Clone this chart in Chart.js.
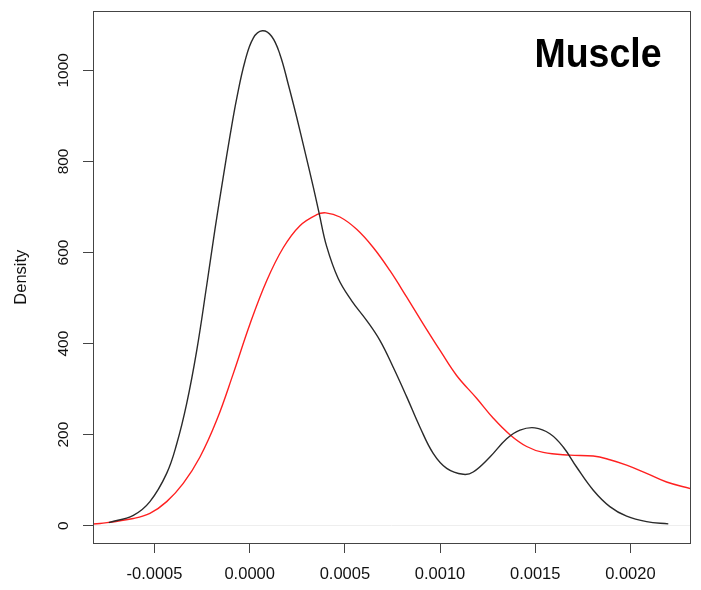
<!DOCTYPE html>
<html>
<head>
<meta charset="utf-8">
<script src="https://cdn.jsdelivr.net/npm/chart.js@4.4.1/dist/chart.umd.min.js"></script>
<style>
  html, body { margin: 0; padding: 0; background: #fff; }
  #wrap { width: 701px; height: 590px; }
</style>
</head>
<body>
<div id="wrap"><canvas id="densityChart" width="701" height="590"></canvas></div>
<script>
// density curves
const blackX = [-0.00074, -0.000611, -0.000524, -0.000436, -0.000383, -0.000331, -0.000278, -0.000226,
  -0.000182, -0.00014, -0.000103, -0.0000683, -0.0000247, 0.0000189, 0.0000662, 0.000115, 0.000159,
  0.000203, 0.000247, 0.00029, 0.000334, 0.000365, 0.000404, 0.000465, 0.000536, 0.000614,
  0.000684, 0.000754, 0.000825, 0.000894, 0.000964, 0.001035, 0.001122, 0.001174, 0.001262,
  0.00135, 0.00142, 0.001498, 0.001577, 0.001647, 0.001717, 0.001805, 0.001892, 0.00198,
  0.002085, 0.002199];
const blackY = [7, 23, 53, 115, 180, 268, 385, 527,
  652, 763, 857, 938, 1020, 1071, 1087, 1075, 1035,
  969, 897, 822, 744, 686, 614, 543, 494, 451,
  407, 348, 283, 217, 159, 126, 113, 118, 151,
  191, 210, 215, 202, 173, 129, 78, 42, 21,
  9, 4];

const redX = [-0.00085, -0.000786, -0.000611, -0.000524, -0.000436, -0.000349, -0.000261, -0.000173,
  -0.0000861, 0.0000016, 0.0000893, 0.000177, 0.000264, 0.000352, 0.0004, 0.000474, 0.000562,
  0.000649, 0.000737, 0.000825, 0.000912, 0.001, 0.001087, 0.001192, 0.00128, 0.001367,
  0.001455, 0.001542, 0.001682, 0.001805, 0.001892, 0.00198, 0.002085, 0.00219, 0.00232];
const redY = [3, 5, 16, 27, 53, 93, 151, 232,
  334, 443, 538, 611, 659, 683, 687, 678, 651,
  611, 560, 502, 443, 385, 330, 280, 236, 200,
  174, 161, 155, 153, 145, 133, 115, 96, 81];

const xTicks = [-0.0005, 0.0000, 0.0005, 0.0010, 0.0015, 0.0020];
const yTicks = [0, 200, 400, 600, 800, 1000];
const panelTitle = 'Muscle';
const yTitle = 'Density';

const toPoints = (xs, ys) => xs.map((x, i) => ({ x: x, y: ys[i] }));

// box round the plot + the panel label
const boxAndLabel = {
  id: 'boxAndLabel',
  afterDatasetsDraw(chart) {
    const { ctx, chartArea } = chart;
    ctx.save();
    ctx.strokeStyle = '#444';
    ctx.lineWidth = 1;
    ctx.strokeRect(Math.round(chartArea.left) + 0.5, Math.round(chartArea.top) + 0.5,
      Math.round(chartArea.right - chartArea.left), Math.round(chartArea.bottom - chartArea.top));
    ctx.fillStyle = '#000';
    ctx.font = 'bold 37.5px "Liberation Sans", Arial, sans-serif';
    ctx.textAlign = 'center';
    ctx.textBaseline = 'alphabetic';
    ctx.translate(598, 66.5);
    ctx.scale(1, 1.1);
    ctx.fillText(panelTitle, 0, 0);
    ctx.restore();
  }
};

const ctx = document.getElementById('densityChart').getContext('2d');
const chart = new Chart(ctx, {
  type: 'line',
  data: {
    datasets: [
      {
        data: toPoints(blackX, blackY),
        borderColor: '#2a2a2a',
        borderWidth: 1.4,
        pointRadius: 0,
        tension: 0.4,
        fill: false,
      },
      {
        data: toPoints(redX, redY),
        borderColor: '#ff2020',
        borderWidth: 1.4,
        pointRadius: 0,
        tension: 0.4,
        fill: false,
      }
    ]
  },
  options: {
    responsive: false,
    animation: false,
    events: [],
    layout: { padding: { top: 10, right: 11, left: 0, bottom: 0 } },
    plugins: { legend: { display: false }, tooltip: { enabled: false } },
    scales: {
      x: {
        type: 'linear',
        min: -0.000823,
        max: 0.002313,
        afterBuildTicks: (scale) => { scale.ticks = xTicks.map(v => ({ value: v })); },
        afterFit: (scale) => { scale.height = 47; },
        border: { display: false },
        grid: { drawOnChartArea: false, drawTicks: true, tickLength: 10, tickColor: '#444' },
        ticks: {
          color: '#111',
          font: { family: '"Liberation Sans", Arial, sans-serif', size: 16.5 },
          padding: 12,
          maxRotation: 0,
          minRotation: 0,
          callback: (v) => Number(v).toFixed(4)
        }
      },
      y: {
        type: 'linear',
        min: -37.9,
        max: 1129.7,
        afterBuildTicks: (scale) => { scale.ticks = yTicks.map(v => ({ value: v })); },
        afterFit: (scale) => { scale.width = 93; },
        border: { display: false },
        grid: {
          drawOnChartArea: true,
          drawTicks: true,
          tickLength: 10,
          tickColor: '#444',
          color: (c) => (c.tick && c.tick.value === 0) ? '#eeeeee' : 'rgba(0,0,0,0)'
        },
        title: {
          display: true,
          text: yTitle,
          color: '#111',
          font: { family: '"Liberation Sans", Arial, sans-serif', size: 16.5 },
          padding: { top: 12, bottom: 0 }
        },
        ticks: {
          color: '#111',
          font: { family: '"Liberation Sans", Arial, sans-serif', size: 15.5 },
          minRotation: 90,
          maxRotation: 90,
          crossAlign: 'center',
          padding: 2,
          callback: (v) => String(v)
        }
      }
    }
  },
  plugins: [boxAndLabel]
});
</script>
</body>
</html>
